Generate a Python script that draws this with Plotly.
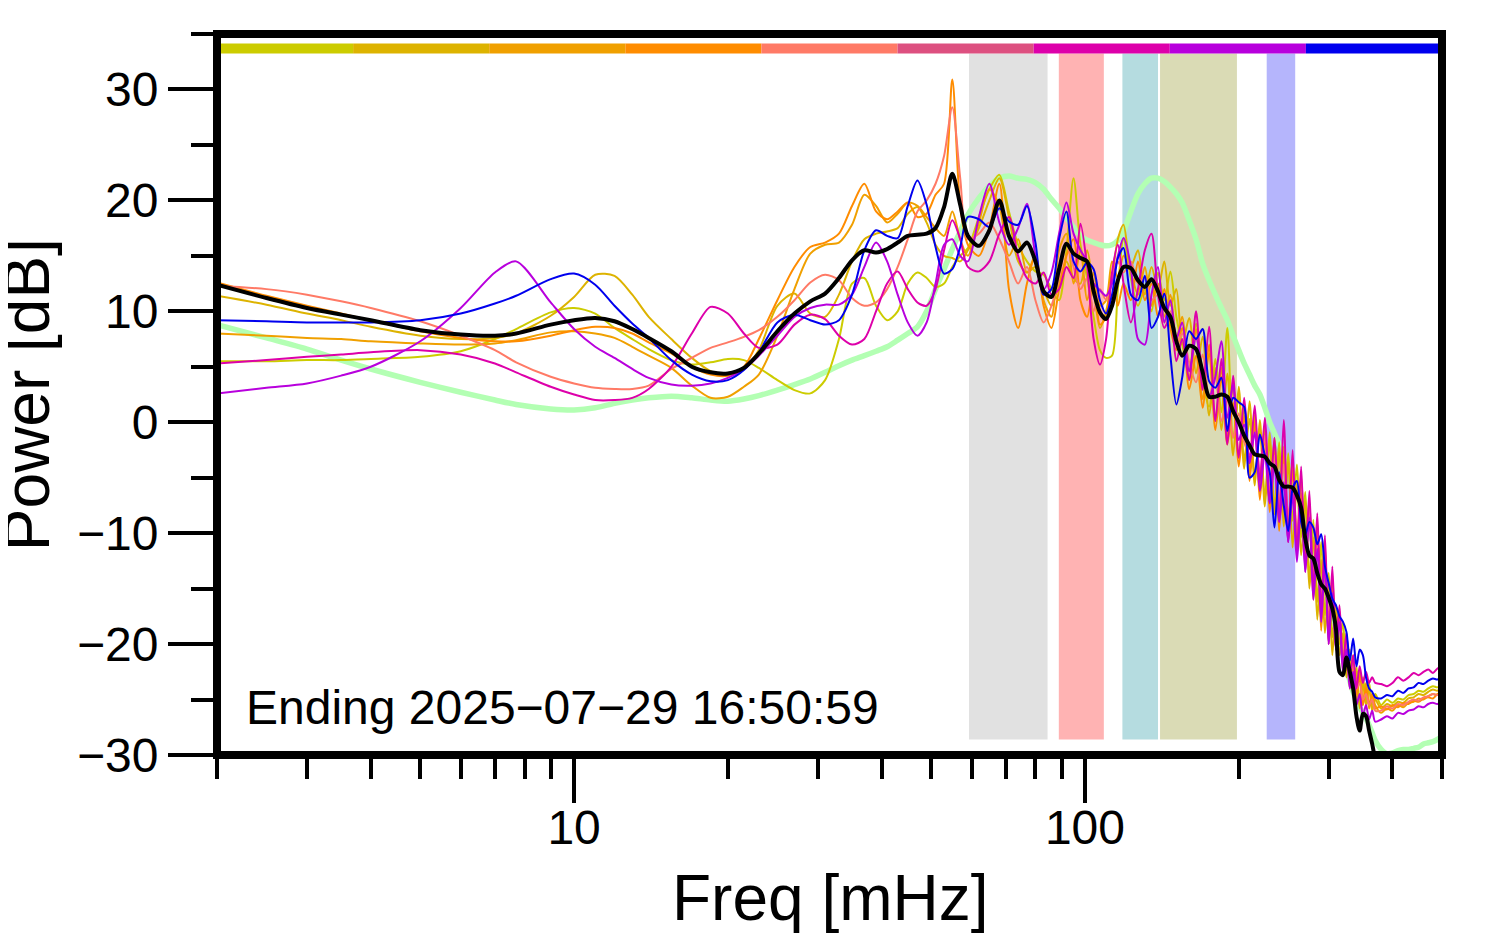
import math
import plotly.graph_objects as go

# ---------------- data ----------------
freq_mhz = [2, 2.5, 3, 3.5, 4, 5, 6, 7, 7.7, 9, 10,
            11, 12, 13, 14, 15.5, 17, 18.5, 20, 21.5, 23, 25, 27, 29,
            31, 33, 35, 37, 39, 41, 43, 45, 47, 49, 51, 53, 55, 57, 59,
            62, 65, 68, 71, 74, 77, 80, 83, 86, 89, 92, 95, 98, 101, 104, 107, 110, 113, 116, 119,
            123, 127, 131, 135, 139, 143, 147, 151, 155,
            160, 165, 170, 175, 180, 185, 190, 195, 200, 205,
            210, 215, 220, 225, 230, 235, 240, 245, 250, 255,
            260, 265, 270, 275, 280, 285, 290, 295, 300, 305,
            310, 315, 320, 325, 330, 335, 340, 345, 350, 355,
            360, 365, 370,
            380, 390, 400, 410, 420, 430, 440, 450, 460, 470, 480, 490, 500]

olive = [5.5, 5.5, 5.6, 5.6, 5.7, 5.9, 6.4, 7.5, 8.4, 9.9, 10.3,
         9.8, 8.5, 7.5, 6.6, 5.6, 5.2, 5.4, 5.7, 5.6, 4.9, 3.8, 2.9, 2.6,
         3.8, 7.5, 12.5, 13.0, 10.5, 9.2, 10.0, 12.5, 13.5, 13.0, 12.2, 12.5, 14.0, 15.0, 15.7,
         18.5, 21.0, 22.3, 19.0, 16.0, 14.5, 13.6, 13.3, 12.0, 11.0, 15.5, 22.0, 16.0, 13.0, 9.5, 6.5, 5.8, 6.0, 12.0, 16.5,
         13.0, 10.5, 12.0, 10.0, 13.5, 11.0, 13.6, 9.5, 7.0,
         4.6, 8.9, 3.7, 1.4, 5.7, 0.9, 8.5, -1.4, 2.4, -3.4,
         0.3, -4.9, -0.6, -6.8, -0.9, -7.8, -1.8, -8.6, -2.8, -8.9,
         -3.8, -10.4, -6.3, -14.2, -8.8, -16.2, -10.8, -17.4, -13.6, -19.4,
         -16.5, -20.0, -18.0, -22.5, -20.5, -24.0, -22.0, -25.5, -23.0, -25.0,
         -23.5, -25.5, -24.5,
         -25.5, -25.0, -25.3, -24.9, -25.0, -24.6, -24.5, -24.2, -24.3, -24.0, -23.8, -23.9, -23.5]

gold = [11.4, 10.6, 9.8, 9.2, 8.6, 7.8, 7.5, 7.6, 8.0, 9.6, 11.3,
        13.3, 13.2, 11.5, 9.5, 7.5, 5.8, 4.6, 4.2, 4.8, 6.5, 10.5, 11.6, 9.8,
        9.5, 11.5, 14.5, 16.5, 17.0, 17.2, 17.5, 18.8, 19.4, 18.0, 16.0, 15.0, 14.8, 14.5, 15.5,
        17.5, 20.0, 22.0, 18.5, 14.5, 13.5, 14.0, 12.0, 10.5, 12.5, 14.5, 13.0, 12.5, 15.5, 12.0, 8.5, 10.0, 13.0, 16.5, 17.8,
        14.0, 15.5, 11.5, 14.0, 12.0, 14.5, 10.5, 12.0, 7.0,
        9.4, 4.4, 7.7, 0.6, 4.9, -0.7, 4.4, -3.0, 3.2, -4.2,
        1.9, -5.7, 0.2, -7.6, -1.7, -8.3, -2.6, -9.4, -3.6, -11.3,
        -5.4, -12.0, -7.1, -15.0, -10.4, -17.8, -12.4, -19.0, -14.4, -21.0,
        -16.5, -21.0, -19.0, -23.0, -21.0, -24.5, -22.5, -25.8, -23.5, -25.5,
        -24.0, -26.0, -25.0,
        -25.8, -25.4, -25.6, -25.2, -25.3, -24.9, -24.8, -24.5, -24.6, -24.3, -24.1, -24.2, -23.8]

amber = [8.0, 7.8, 7.6, 7.5, 7.3, 7.1, 7.0, 7.1, 7.4, 8.1, 8.2,
         8.0, 7.6, 6.8, 6.0, 4.9, 3.3, 2.2, 2.3, 3.2, 4.3, 7.8, 12.0, 15.2,
         16.0, 16.2, 17.8, 20.5, 19.5, 18.0, 18.8, 19.8, 19.5, 18.5, 17.5, 16.8, 19.0, 16.5, 15.0,
         18.0, 21.0, 19.5, 15.0, 16.5, 13.5, 15.0, 11.0, 9.5, 15.5, 17.0, 12.5, 15.5, 11.0, 13.5, 10.5, 11.0, 14.5, 13.0, 15.0,
         13.5, 11.5, 14.0, 10.5, 12.5, 9.5, 11.5, 7.5, 9.5,
         3.8, 8.4, 2.1, 6.2, 0.1, 4.9, -1.2, 3.4, -3.2, 1.4,
         -4.5, 0.7, -6.2, -0.4, -7.3, -1.4, -8.2, -2.2, -10.0, -3.3,
         -11.0, -4.8, -11.9, -7.0, -15.2, -9.0, -18.0, -11.0, -20.0, -13.8,
         -20.5, -17.0, -22.5, -19.0, -24.0, -21.0, -25.0, -22.5, -25.5, -23.5,
         -25.8, -24.5, -25.5,
         -26.2, -25.8, -26.0, -25.5, -25.7, -25.3, -25.2, -24.9, -25.0, -24.7, -24.5, -24.6, -24.3]

darkorange = [12.6, 11.4, 10.5, 9.8, 9.2, 8.2, 7.6, 7.3, 7.3, 7.8, 8.3,
              8.6, 8.5, 8.0, 7.2, 6.2, 5.0, 4.3, 4.2, 5.0, 7.5, 11.0, 14.0, 15.8,
              16.2, 17.0, 19.5, 21.5, 19.0, 18.3, 19.0, 19.8, 18.5, 18.8, 20.5, 21.5, 30.9, 19.5, 16.0,
              15.0, 17.5, 21.5, 12.0, 8.5, 12.5, 15.0, 10.5, 8.5, 12.0, 15.0, 16.5, 11.0, 9.5, 12.5, 8.8, 9.5, 13.5, 10.5, 12.5,
              11.0, 14.5, 11.0, 12.5, 9.5, 12.0, 8.5, 6.5, 8.5,
              3.0, 6.0, 1.3, 7.0, -0.7, 4.1, -2.0, 1.8, -4.0, 0.6,
              -5.3, -0.1, -7.0, -1.2, -8.1, -2.2, -9.8, -3.0, -10.8, -4.1,
              -11.8, -6.4, -12.7, -7.8, -16.0, -9.8, -18.8, -12.6, -19.2, -14.6,
              -20.0, -17.5, -22.0, -19.5, -23.5, -21.5, -24.5, -23.0, -25.5, -24.0,
              -25.5, -24.5, -25.8,
              -25.6, -25.9, -25.5, -25.7, -25.3, -25.4, -25.1, -25.2, -24.9, -24.8, -24.9, -24.5, -24.4]

salmon = [12.3, 12.0, 11.5, 10.9, 10.3, 9.1, 7.8, 6.5, 5.4, 4.1, 3.5,
          3.1, 3.0, 3.0, 3.3, 4.8, 5.8, 6.7, 7.2, 7.7, 8.3, 9.5, 11.0, 12.6,
          13.3, 12.8, 11.2, 10.5, 10.8, 12.0, 14.0, 16.5, 19.0, 20.0, 21.5, 24.0, 28.4, 22.0, 16.5,
          17.0, 18.0, 16.5, 14.5, 12.5, 14.0, 11.0, 9.0, 10.5, 13.0, 16.0, 14.0, 12.0, 13.0, 10.0, 12.0, 11.0, 13.0, 14.5, 13.5,
          14.5, 12.5, 13.0, 11.0, 11.5, 9.0, 10.0, 7.0, 8.0,
          5.4, 3.6, 6.1, 2.2, 4.1, 0.1, 2.0, -1.4, 0.8, -1.8,
          -2.9, -0.9, -4.6, -1.2, -6.5, -3.0, -7.4, -3.8, -8.4, -5.7,
          -10.2, -7.2, -11.1, -7.8, -13.6, -10.6, -16.4, -12.6, -17.6, -15.4,
          -19.0, -18.0, -21.0, -20.0, -22.5, -22.0, -24.0, -23.5, -25.0, -24.5,
          -25.5, -25.0, -26.0,
          -26.0, -25.6, -25.8, -25.4, -25.5, -25.2, -25.0, -25.1, -24.8, -24.7, -24.5, -24.6, -24.2]

magenta = [5.3, 5.6, 5.9, 6.1, 6.3, 6.5, 6.1, 5.3, 4.5, 3.2, 2.5,
           2.0, 2.0, 2.2, 3.0, 5.0, 8.0, 10.4, 9.8, 8.0, 6.7, 7.0, 8.8, 9.7,
           9.3, 7.8, 7.0, 7.5, 10.0, 12.5, 13.6, 12.0, 10.8, 10.5, 12.0, 15.5, 18.2, 16.5, 14.0,
           13.6, 14.5, 17.0, 18.5, 15.0, 13.0, 12.5, 13.5, 11.5, 12.0, 14.0, 13.0, 17.9, 14.0, 7.5, 5.2, 7.5, 13.5, 16.0, 12.5,
           9.0, 12.0, 15.5, 17.0, 11.5, 8.5, 9.5, 5.5, 7.5,
           3.8, 10.0, 2.9, 8.6, 0.1, 5.7, -2.0, 4.2, -3.2, 2.2,
           -3.7, 1.5, -5.4, 0.4, -7.3, -1.4, -9.0, 0.2, -10.8, -2.5,
           -11.8, -4.0, -13.5, -6.2, -15.2, -8.2, -17.2, -10.2, -20.0, -13.0,
           -20.5, -16.5, -22.0, -19.0, -23.0, -21.0, -24.0, -22.0, -23.5, -22.5,
           -23.5, -23.0, -23.5,
           -23.6, -23.8, -23.5, -23.0, -23.3, -23.0, -22.6, -22.8, -22.5, -22.3, -22.6, -22.2, -22.0]

purple = [2.6, 3.1, 3.5, 4.2, 5.0, 7.3, 10.3, 13.5, 14.5, 10.8, 8.4,
          6.8, 5.8, 4.8, 4.0, 3.4, 3.3, 3.5, 4.0, 4.8, 6.0, 7.8, 9.5, 10.3,
          10.6, 10.6, 11.5, 14.0, 16.2, 14.5, 11.5, 9.0, 7.8, 9.0, 12.5, 16.0, 16.5, 15.0, 14.5,
          18.5, 21.5, 18.0, 16.0, 17.5, 19.7, 15.0, 12.0, 13.5, 17.0, 19.8, 17.0, 15.5, 14.5, 12.5, 11.9, 11.4, 12.5, 15.0, 16.6,
          14.0, 7.5, 7.0, 11.5, 14.0, 9.0, 11.0, 7.5, 9.0,
          4.6, 7.6, 4.5, 2.2, 4.1, 7.3, 0.4, 3.4, -1.6, -0.2,
          -3.7, -0.9, -6.2, -2.8, -7.3, -3.8, -9.0, -5.4, -10.8, -6.5,
          -12.6, -7.2, -13.5, -8.6, -16.0, -11.4, -18.0, -12.6, -20.0, -15.4,
          -20.5, -18.0, -22.5, -20.5, -24.0, -22.5, -25.5, -24.5, -26.5, -25.5,
          -26.8, -26.0, -27.0,
          -26.8, -26.5, -26.7, -26.2, -26.3, -26.0, -25.9, -25.6, -25.7, -25.4, -25.3, -25.4, -25.0]

blue = [9.2, 9.1, 9.0, 9.0, 9.0, 9.2, 9.8, 10.7, 11.4, 12.9, 13.4,
        12.4, 10.5, 8.9, 7.6, 5.6, 4.3, 3.7, 3.8, 4.7, 6.3, 9.0, 9.7, 9.2,
        8.8, 9.2, 11.5, 15.5, 17.3, 16.8, 16.6, 19.5, 21.8, 19.6, 15.8, 13.4, 13.8, 15.8, 18.5,
        18.3, 17.6, 19.3, 18.1, 17.8, 19.5, 16.2, 11.5, 12.0, 16.5, 19.0, 14.5, 13.6, 14.4, 13.8, 11.0, 9.8, 11.5, 14.8, 15.7,
        11.5, 11.0, 13.2, 8.5, 9.5, 11.6, 6.0, 1.6, 4.0,
        8.2, 7.5, 8.4, 3.7, 3.1, 4.0, -0.8, 2.2, 1.8, 1.4,
        -5.0, -4.5, -1.1, -3.0, -4.5, -9.5, -4.5, -7.5, -9.8, -6.0,
        -5.3, -9.0, -10.1, -9.0, -9.5, -11.0, -10.1, -13.0, -14.5, -15.9,
        -16.5, -17.5, -18.0, -18.9, -21.5, -19.5, -22.0, -20.5, -21.0, -23.0,
        -24.0, -24.3, -24.8,
        -24.9, -24.6, -24.7, -24.2, -24.4, -24.0, -23.9, -23.5, -23.6, -23.3, -23.1, -23.2, -22.8]

mean_black = [12.4, 11.2, 10.3, 9.7, 9.2, 8.3, 7.9, 7.8, 8.0, 8.8, 9.2,
              9.4, 9.1, 8.4, 7.6, 6.4, 5.0, 4.5, 4.4, 4.9, 6.2, 8.2, 9.8, 10.9,
              11.6, 13.0, 14.6, 15.5, 15.3, 15.6, 16.2, 16.8, 16.9, 17.0, 17.5, 19.4, 22.4, 19.6, 16.8,
              15.9, 17.3, 20.0, 16.8, 15.4, 16.2, 14.5, 11.8, 11.3, 13.8, 16.1, 15.2, 14.8, 14.5, 11.8, 9.9, 9.3, 10.5, 12.8, 14.0,
              13.9, 12.8, 12.2, 12.9, 11.8, 10.3, 9.5, 7.3, 6.0,
              6.9, 6.6, 4.5, 2.3, 2.3, 2.5, 2.3, 1.0, 0.0, -1.2,
              -2.1, -2.9, -3.0, -3.1, -3.7, -4.0, -5.2, -5.8, -5.8, -5.9,
              -6.6, -7.7, -10.5, -12.0, -12.3, -13.6, -14.6, -15.0, -15.8, -16.8,
              -18.6, -22.5, -22.8, -21.2, -22.5, -24.0, -26.5, -27.8, -26.3, -26.5,
              -27.8, -29.0, -30.3,
              -31.5, -32.5, -33.0, -33.5, -34.0, -34.0, -34.5, -35.0, -35.0, -35.0, -35.5, -35.5, -36.0]

ref_green = [8.8, 7.6, 6.6, 5.6, 4.8, 3.6, 2.7, 2.0, 1.6, 1.2, 1.1,
             1.3, 1.7, 2.0, 2.2, 2.35, 2.2, 2.0, 1.9, 2.1, 2.4, 2.9, 3.4, 3.9,
             4.5, 5.1, 5.6, 6.0, 6.4, 6.8, 7.4, 8.0, 8.6, 10.0, 12.0, 13.8, 15.6, 17.2, 18.7,
             20.2, 21.3, 22.0, 22.2, 22.0, 21.9, 21.6, 21.0, 20.1, 19.3, 18.4, 17.6, 16.8, 16.4, 16.2, 16.0, 15.9, 16.0, 16.4, 17.2,
             19.0, 20.6, 21.5, 22.0, 22.0, 21.7, 21.2, 20.6, 19.8,
             18.2, 16.5, 14.3, 12.8, 11.5, 10.3, 9.2, 7.8, 6.5, 5.3,
             4.3, 3.3, 2.5, 1.3, 0.0, -1.0, -2.0, -3.0, -4.0, -5.0,
             -6.0, -7.2, -8.5, -9.8, -11.0, -12.3, -13.5, -14.8, -16.0, -17.2,
             -18.5, -19.8, -21.0, -22.2, -23.3, -24.3, -25.0, -25.7, -26.2, -26.7,
             -27.3, -28.0, -28.7,
             -29.5, -29.9, -29.8, -29.6, -29.5, -29.5, -29.4, -29.3, -29.0, -28.9, -28.8, -28.6, -28.3]

# period colours (top colour bar, 9 equal log segments) and the spectra drawn
period_colors = ["#CCCC00", "#DDB300", "#F0A000", "#FF8C00", "#FF7A66",
                 "#DD5080", "#DD00AA", "#B800DD", "#0000EE"]
spectra = [(olive, "#CCCC00"), (gold, "#DDB300"), (amber, "#F0A000"),
           (darkorange, "#FF8C00"), (salmon, "#FF7A66"), (magenta, "#DD00AA"),
           (purple, "#B800DD"), (blue, "#0000EE")]

# shaded frequency bands [mHz]
band_lo = [59.3, 88.9, 118.4, 140.3, 226.9]
band_hi = [84.5, 108.9, 139.0, 198.4, 258.0]
band_colors = ["#E1E1E1", "#FFB3B3", "#B5DCE0", "#DADBB5", "#B5B5FC"]

x_ticks = [10, 100]
x_minor = [2, 3, 4, 5, 6, 7, 8, 9, 20, 30, 40, 50, 60, 70, 80, 90, 200, 300, 400, 500]
y_ticks = [-30, -20, -10, 0, 10, 20, 30]
y_minor = [-25, -15, -5, 5, 15, 25, 35]

FMIN, FMAX = 2, 500
YMIN, YMAX = -30, 35
FONT = "Liberation Sans, Arial, Helvetica, sans-serif"

fig = go.Figure()

# bands
BAND_BOT, BAND_TOP = -28.6, 33.25
for lo, hi, col in zip(band_lo, band_hi, band_colors):
    fig.add_trace(go.Scatter(x=[lo, hi, hi, lo, lo],
                             y=[BAND_BOT, BAND_BOT, BAND_TOP, BAND_TOP, BAND_BOT],
                             mode="lines", fill="toself", fillcolor=col,
                             line=dict(width=0, color=col), hoverinfo="skip",
                             showlegend=False))

# colour bar along the top
BAR_BOT, BAR_TOP = 33.25, 34.15
n = len(period_colors)
ratio = FMAX / FMIN
for k, col in enumerate(period_colors):
    a = FMIN * ratio ** (k / n)
    b = FMIN * ratio ** ((k + 1) / n)
    fig.add_trace(go.Scatter(x=[a, b, b, a, a],
                             y=[BAR_BOT, BAR_BOT, BAR_TOP, BAR_TOP, BAR_BOT],
                             mode="lines", fill="toself", fillcolor=col,
                             line=dict(width=0, color=col), hoverinfo="skip",
                             showlegend=False))

# reference (light green)
fig.add_trace(go.Scatter(x=freq_mhz, y=ref_green, mode="lines",
                         line=dict(color="#B3FFB3", width=5.5, shape="spline", smoothing=0.8),
                         showlegend=False))

for vals, col in spectra:
    fig.add_trace(go.Scatter(x=freq_mhz, y=vals, mode="lines",
                             line=dict(color=col, width=2, shape="spline", smoothing=0.8),
                             showlegend=False))

fig.add_trace(go.Scatter(x=freq_mhz, y=mean_black, mode="lines",
                         line=dict(color="black", width=4, shape="spline", smoothing=0.8),
                         showlegend=False))

fig.update_layout(
    width=1494, height=952,
    margin=dict(l=209, r=60, t=26, b=205),
    paper_bgcolor="white", plot_bgcolor="white",
    font=dict(family=FONT, color="black", size=48),
    showlegend=False,
    xaxis=dict(type="log", range=[math.log10(FMIN), math.log10(FMAX)],
               showgrid=False, zeroline=False, showline=False,
               tickmode="array", tickvals=x_ticks, ticktext=[str(v) for v in x_ticks],
               ticks="outside", ticklen=47, tickwidth=4, tickcolor="black",
               tickfont=dict(size=48, family=FONT, color="black"),
               ticklabelstandoff=-17,
               minor=dict(tickmode="array", tickvals=x_minor, ticks="outside",
                          ticklen=23, tickwidth=4, tickcolor="black", showgrid=False)),
    yaxis=dict(range=[YMIN, YMAX], showgrid=False, zeroline=False, showline=False,
               tickmode="array", tickvals=y_ticks,
               ticks="outside", ticklen=48, tickwidth=4, tickcolor="black",
               tickfont=dict(size=48, family=FONT, color="black"),
               ticklabelstandoff=0,
               minor=dict(tickmode="array", tickvals=y_minor, ticks="outside",
                          ticklen=25, tickwidth=4, tickcolor="black", showgrid=False)),
    shapes=[dict(type="rect", xref="paper", yref="paper", x0=0, x1=1, y0=0, y1=1,
                 line=dict(color="black", width=8), layer="above")],
    annotations=[
        dict(text="Ending 2025\u221207\u221229 16:50:59", xref="paper", yref="paper",
             x=0.0217, y=0.0653, xanchor="left", yanchor="middle", showarrow=False,
             font=dict(size=48, family=FONT, color="black")),
        dict(text="Power [dB]", xref="paper", yref="paper", x=-0.1554, y=0.5,
             xanchor="center", yanchor="middle", textangle=-90, showarrow=False,
             font=dict(size=64, family=FONT, color="black")),
        dict(text="Freq [mHz]", xref="paper", yref="paper", x=0.5, y=-0.199,
             xanchor="center", yanchor="middle", showarrow=False,
             font=dict(size=64, family=FONT, color="black")),
    ],
)

fig.write_html("out.html")
